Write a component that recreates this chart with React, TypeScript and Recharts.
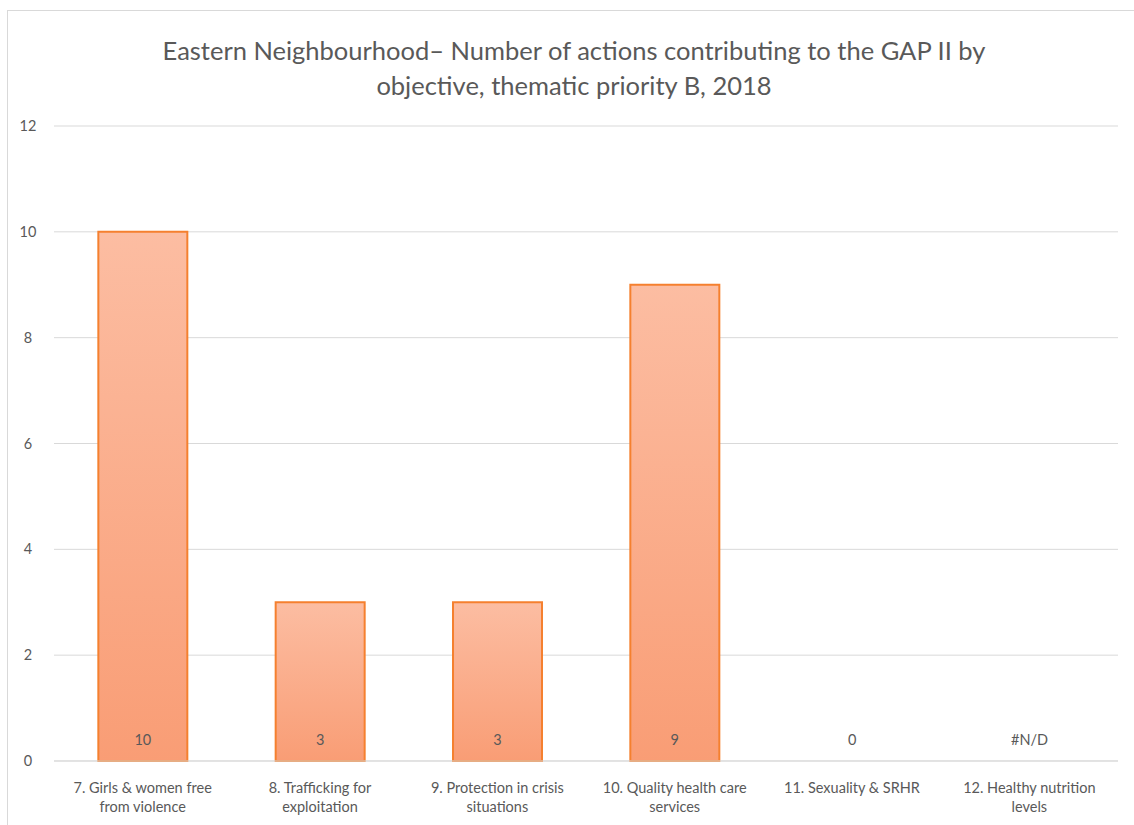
import React from 'react';
import { BarChart, Bar, XAxis, YAxis, CartesianGrid, LabelList } from 'recharts';

const categories = [
    '7. Girls & women free from violence',
    '8. Trafficking for exploitation',
    '9. Protection in crisis situations',
    '10. Quality health care services',
    '11. Sexuality & SRHR',
    '12. Healthy nutrition levels',
];
const actions: (number | null)[] = [10, 3, 3, 9, 0, null];
const valueLabels = ['10', '3', '3', '9', '0', '#N/D'];
const yTicks = [0, 2, 4, 6, 8, 10, 12];

const FONT = 'Lato, "Open Sans", sans-serif';
const TEXT = '#595959';

// word wrap for the category labels (Excel breaks them at about 23 chars)
const wrap = (s: string, max = 23) => {
    const lines: string[] = [];
    let cur = '';
    s.split(' ').forEach((w) => {
        const next = cur ? cur + ' ' + w : w;
        if (next.length > max && cur) {
            lines.push(cur);
            cur = w;
        } else cur = next;
    });
    if (cur) lines.push(cur);
    return lines;
};

const CategoryTick = (props: any) => {
    const { x, y, payload } = props;
    const lines = wrap(String(payload.value));
    return (
        <g>
            {lines.map((l, i) => (
                <text key={i} x={x} y={y + 32} dy={i * 19} textAnchor="middle" fontSize={14.5} fill={TEXT} fontFamily={FONT}>
                    {l}
                </text>
            ))}
        </g>
    );
};

const ValueTick = (props: any) => {
    const { y, payload } = props;
    return (
        <text x={28} y={y + 5} textAnchor="middle" fontSize={14.5} fill={TEXT} fontFamily={FONT}>
            {payload.value}
        </text>
    );
};

const App = () => {
    const data = categories.map((c, i) => ({
        name: c,
        base: 0,
        value: actions[i],
        label: valueLabels[i],
    }));

    return (
        <div style={{ position: 'absolute', left: 0, top: 0, width: 1134, height: 825, background: '#fff', overflow: 'hidden' }}>
            <div style={{ position: 'absolute', left: 7, top: 10, width: 1200, height: 900, border: '1px solid #d9d9d9' }} />
            <div
                style={{
                    position: 'absolute',
                    left: 7,
                    top: 33,
                    width: 1134,
                    textAlign: 'center',
                    fontFamily: FONT,
                    fontSize: 25.5,
                    lineHeight: '35px',
                    color: TEXT,
                }}
            >
                Eastern Neighbourhood– Number of actions contributing to the GAP II by
                <br />
                objective, thematic priority B, 2018
            </div>
            <div style={{ position: 'absolute', left: 0, top: 0 }}>
                <BarChart width={1134} height={825} data={data} margin={{ top: 126, right: 16, left: 0, bottom: 0 }} barCategoryGap="25%">
                    <defs>
                        <linearGradient id="barFill" x1="0" y1="0" x2="0" y2="1">
                            <stop offset="0%" stopColor="#fcbda2" />
                            <stop offset="100%" stopColor="#f99d75" />
                        </linearGradient>
                    </defs>
                    <CartesianGrid vertical={false} stroke="#d9d9d9" />
                    <XAxis
                        dataKey="name"
                        interval={0}
                        tickLine={false}
                        tickSize={0}
                        tickMargin={0}
                        axisLine={{ stroke: '#d9d9d9' }}
                        height={64}
                        tick={<CategoryTick />}
                    />
                    <YAxis
                        width={54}
                        domain={[0, 12]}
                        ticks={yTicks}
                        axisLine={false}
                        tickLine={false}
                        tick={<ValueTick />}
                    />
                    {/* invisible 1px bar at the bottom of the stack carries the value labels near the baseline */}
                    <Bar dataKey="base" stackId="a" fill="none" minPointSize={1} isAnimationActive={false}>
                        <LabelList dataKey="label" position="top" offset={15} fontSize={14.5} fill={TEXT} fontFamily={FONT} />
                    </Bar>
                    <Bar dataKey="value" stackId="a" fill="url(#barFill)" stroke="#f5802f" strokeWidth={2} isAnimationActive={false} />
                </BarChart>
            </div>
        </div>
    );
};

export default App;
